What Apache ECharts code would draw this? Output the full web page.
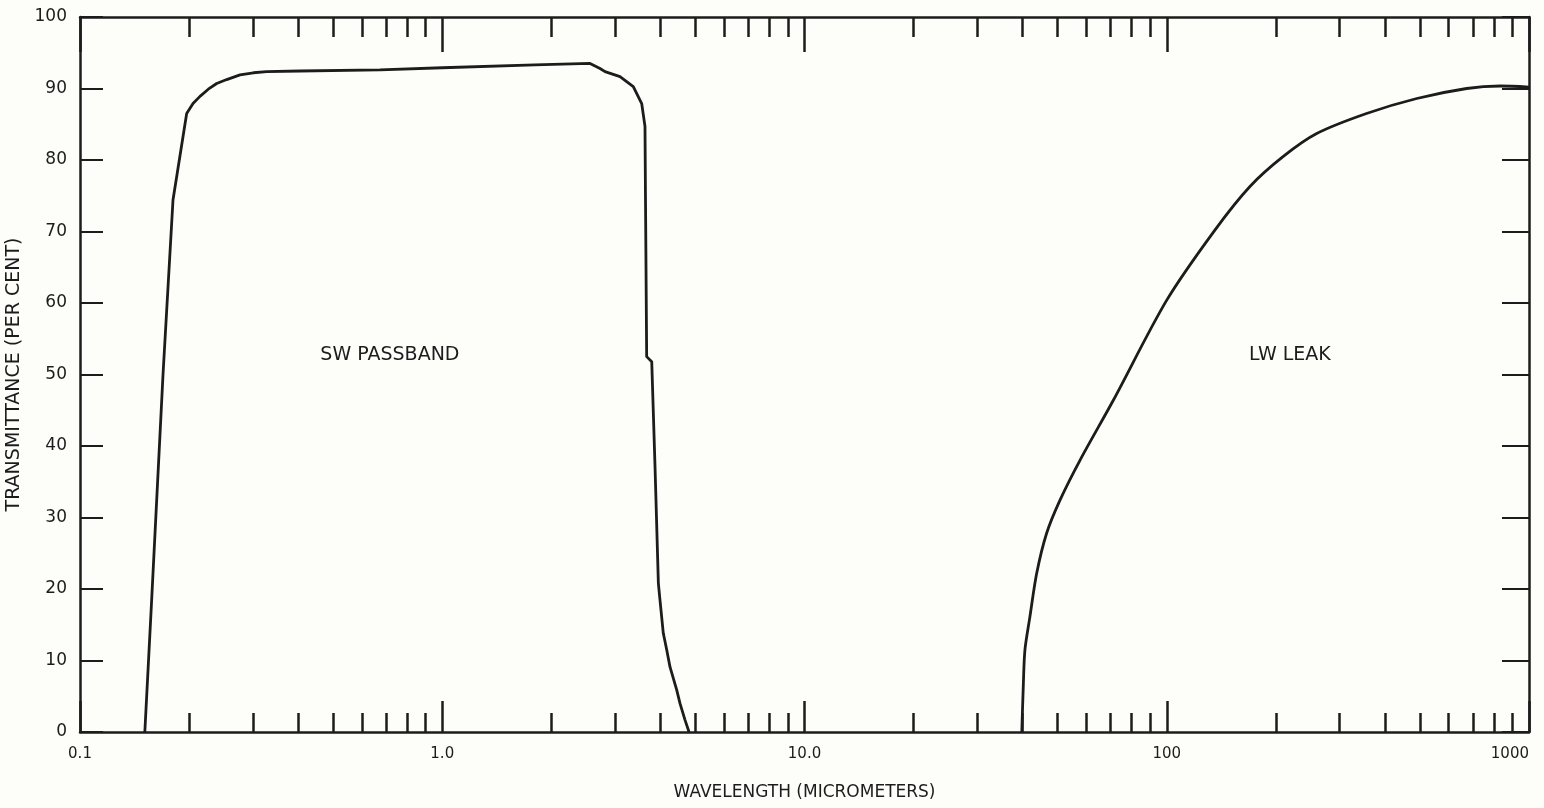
<!DOCTYPE html>
<html>
<head>
<meta charset="utf-8">
<title>Transmittance</title>
<script src="https://cdn.jsdelivr.net/npm/echarts@6/dist/echarts.min.js"></script>
<style>
  html, body { margin: 0; padding: 0; background: #fdfdfa; }
  #main { width: 1544px; height: 808px; }
</style>
</head>
<body>
<div id="main"></div>
<script>
// wavelength in micrometers, transmittance in per cent
var swWave  = [0.151, 0.1577, 0.1695, 0.1806, 0.197, 0.2051, 0.2144, 0.226, 0.2384, 0.2541, 0.2765, 0.301, 0.3276, 0.4046,
               0.673, 1.0, 1.8, 2.558, 2.726, 2.814, 3.095, 3.368, 3.553, 3.628, 3.64, 3.667, 3.787, 3.867, 3.95, 3.99,
               4.076, 4.165, 4.253, 4.438, 4.532, 4.678, 4.8];
var swTrans = [0, 18.5, 50, 74.4, 86.5, 87.9, 88.9, 89.9, 90.7, 91.25, 91.9, 92.2, 92.35, 92.45,
               92.6, 92.9, 93.3, 93.5, 92.8, 92.35, 91.65, 90.25, 87.9, 84.7, 74.4, 52.5, 51.8, 37.1, 20.8, 18.5,
               13.8, 11.5, 9.1, 5.9, 4.0, 1.7, 0];

var lwWave  = [39.8, 40.2, 40.6, 41.9, 43.75, 46.6, 50.7, 57.6, 71.2, 100, 135.8, 169.7, 209.8, 259.4, 356, 490, 673, 832, 1000];
var lwTrans = [0, 6.8, 11.5, 16.1, 22.2, 27.8, 32.4, 38.0, 46.4, 60.4, 70.2, 76.3, 80.5, 83.7, 86.5, 88.6, 90.0, 90.35, 90.2];

var majorTicks = [0.1, 1, 10, 100, 1000];
var tickLabels = ['0.1', '1.0', '10.0', '100', '1000'];
var minorTicks = [0.2, 0.3, 0.4, 0.5, 0.6, 0.7, 0.8, 0.9,
                  2, 3, 4, 5, 6, 7, 8, 9,
                  20, 30, 40, 50, 60, 70, 80, 90,
                  200, 300, 400, 500, 600, 700, 800, 900];

var noteNames  = ['SW PASSBAND', 'LW LEAK'];
var noteWave   = [0.717, 218.8];
var noteTrans  = [52.7, 52.7];

function pairs(xs, ys) {
  return xs.map(function (x, i) { return [x, ys[i]]; });
}

var ink = '#1c1c1c';
var font = "'DejaVu Sans', sans-serif";

function xAxisOf(pos, ticks, len, withLine, withLabels) {
  return {
    type: 'log', logBase: 10, min: 0.1, max: 1000, position: pos,
    axisLine: { show: withLine, lineStyle: { color: ink, width: 2.5 } },
    axisTick: { show: true, inside: true, length: len, customValues: ticks,
                lineStyle: { color: ink, width: 2.5 } },
    axisLabel: withLabels ? {
      show: true, margin: 15, color: ink, fontFamily: font, fontSize: 15,
      alignMaxLabel: 'right',
      customValues: majorTicks,
      formatter: function (v) {
        var i = majorTicks.findIndex(function (m) { return Math.abs(m - v) / m < 1e-6; });
        return i >= 0 ? tickLabels[i] : '';
      }
    } : { show: false },
    splitLine: { show: false }, minorTick: { show: false }
  };
}

var chart = echarts.init(document.getElementById('main'));
chart.setOption({
  backgroundColor: '#fdfdfa',
  animation: false,
  grid: { left: 80, right: 15, top: 17, bottom: 76, outerBoundsMode: 'none' },
  xAxis: [
    Object.assign(xAxisOf('bottom', minorTicks, 19, true, true), {
      name: 'WAVELENGTH (MICROMETERS)', nameLocation: 'middle', nameGap: 52,
      nameTextStyle: { color: ink, fontFamily: font, fontSize: 17 }
    }),
    xAxisOf('bottom', majorTicks, 31, false, false),
    xAxisOf('top', minorTicks, 20, true, false),
    xAxisOf('top', majorTicks, 35, false, false)
  ],
  yAxis: [
    {
      type: 'value', min: 0, max: 100, interval: 10, position: 'left',
      name: 'TRANSMITTANCE (PER CENT)', nameLocation: 'middle', nameGap: 48, nameRotate: 90,
      nameTextStyle: { color: ink, fontFamily: font, fontSize: 19 },
      axisLine: { show: true, lineStyle: { color: ink, width: 2.5 } },
      axisTick: { show: true, inside: true, length: 23, lineStyle: { color: ink, width: 2 } },
      axisLabel: { margin: 13, color: ink, fontFamily: font, fontSize: 17 },
      splitLine: { show: false }
    },
    {
      type: 'value', min: 0, max: 100, interval: 10, position: 'right',
      axisLine: { show: true, lineStyle: { color: ink, width: 2.5 } },
      axisTick: { show: true, inside: true, length: 27, lineStyle: { color: ink, width: 2 } },
      axisLabel: { show: false },
      splitLine: { show: false }
    }
  ],
  series: [
    {
      name: 'SW passband', type: 'line', xAxisIndex: 0, yAxisIndex: 0,
      data: pairs(swWave, swTrans), showSymbol: false, smooth: false,
      lineStyle: { color: ink, width: 2.8 }
    },
    {
      name: 'LW leak', type: 'line', xAxisIndex: 0, yAxisIndex: 0,
      data: pairs(lwWave, lwTrans), showSymbol: false, smooth: 0.3,
      lineStyle: { color: ink, width: 2.8 }
    },
    {
      name: 'notes', type: 'scatter', xAxisIndex: 0, yAxisIndex: 0, symbolSize: 0,
      itemStyle: { opacity: 1 },
      data: noteNames.map(function (n, i) { return { name: n, value: [noteWave[i], noteTrans[i]] }; }),
      label: { show: true, position: 'inside', formatter: '{b}', color: ink, opacity: 1,
               fontFamily: font, fontSize: 19 }
    }
  ]
});
</script>
</body>
</html>
